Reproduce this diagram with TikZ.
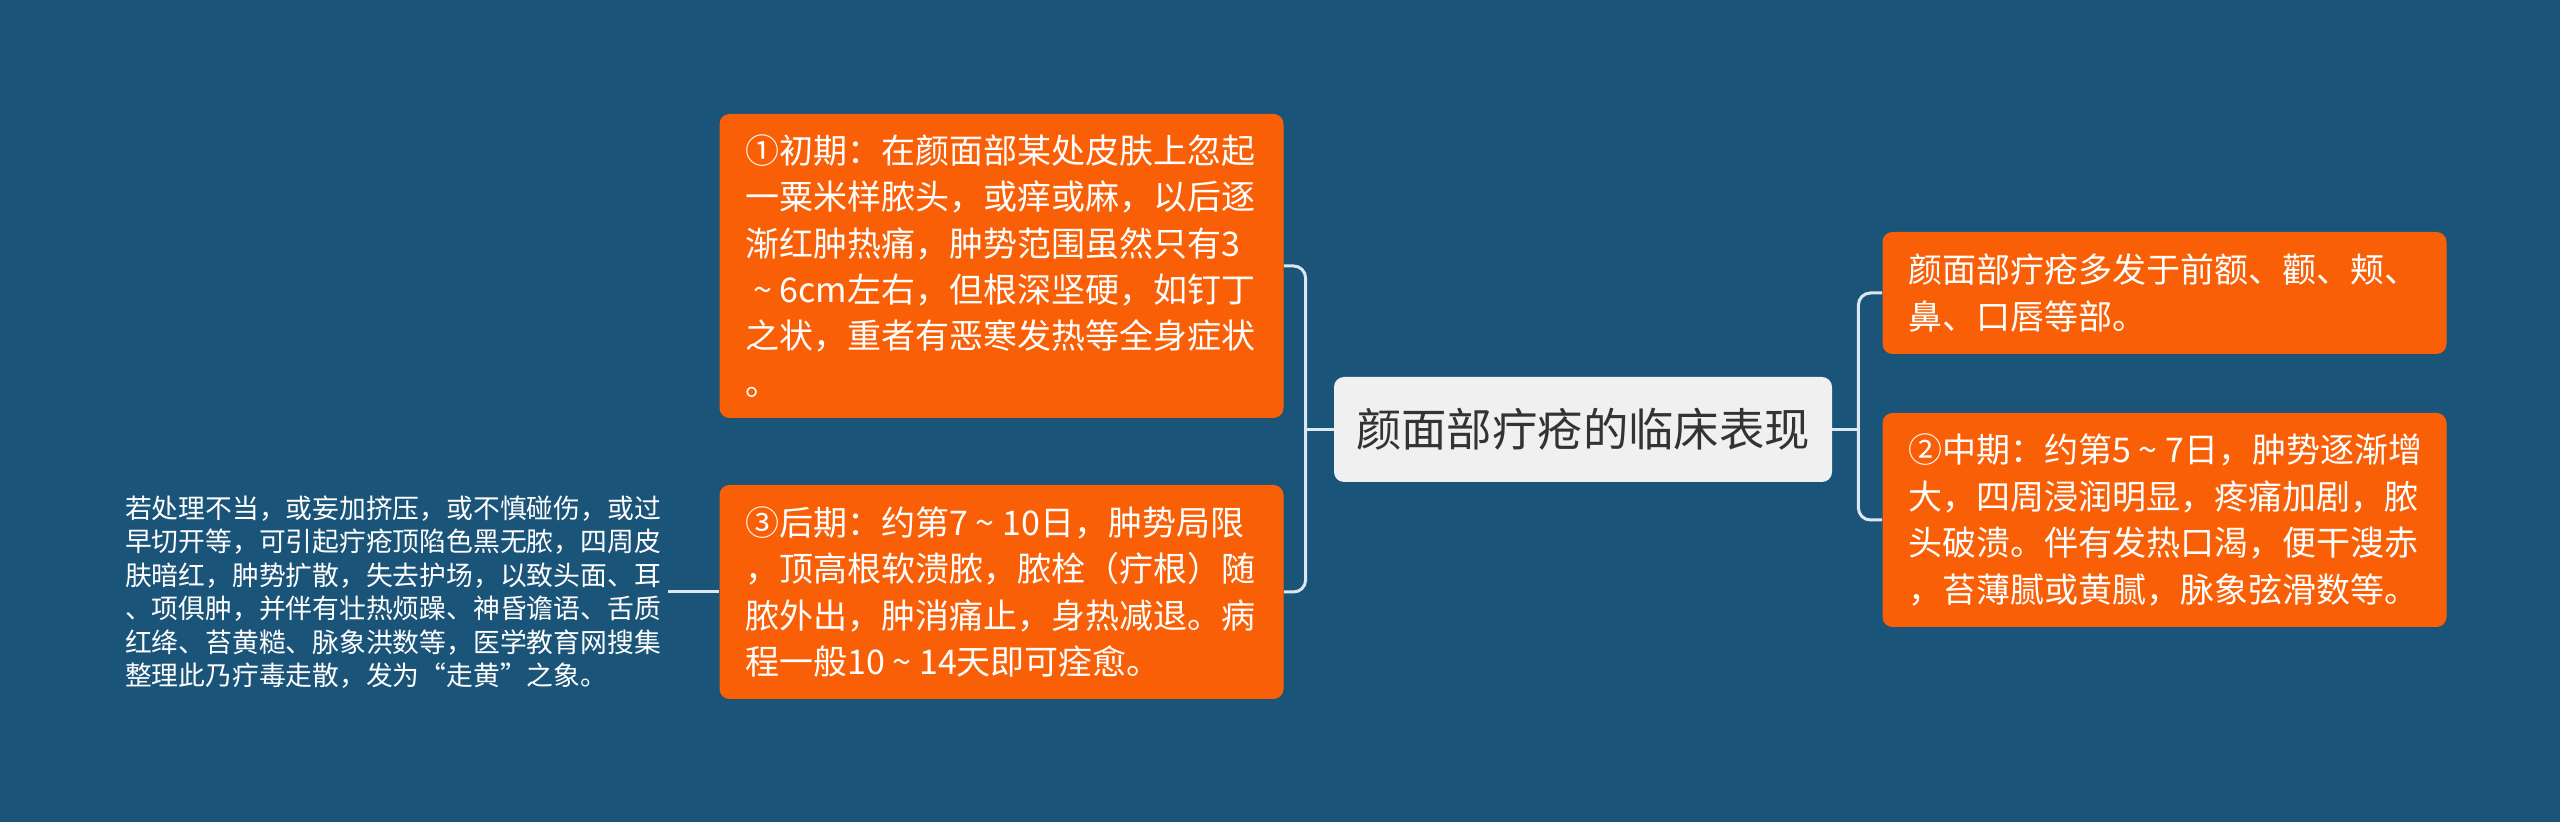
\documentclass[tikz,border=0pt]{standalone}
\usepackage{fontspec}
\setmainfont{Noto Sans CJK SC}
\usepackage{xcolor}
\usepackage{tikz}
\usetikzlibrary{calc}
\definecolor{bgblue}{HTML}{1B5479}
\definecolor{boxorange}{HTML}{F95F06}
\definecolor{rootgray}{HTML}{F0F0F0}
\definecolor{linkwhite}{HTML}{DDE7EF}
\newcommand{\wave}{\makebox[1em]{\char"007E}}
\tikzset{
    rootbox/.style={fill=rootgray, text=black!80, rounded corners=5pt, minimum width=249pt, minimum height=52.5pt, font=\fontsize{22.7pt}{27pt}\selectfont},
    leafbox/.style={fill=boxorange, text=white, rounded corners=5pt, align=left, text width=256pt, inner xsep=13pt, font=\fontsize{17pt}{23.2pt}\selectfont},
    notetext/.style={text=white, align=left, font=\fontsize{13.4pt}{16.7pt}\selectfont},
    link/.style={draw=linkwhite, line width=1.5pt, rounded corners=6pt}
}
\begin{document}
\begin{tikzpicture}[x=0.5pt,y=-0.5pt]
    \fill[bgblue] (0,0) rectangle (2560,822);
        \node[rootbox] (root) at (1583,429.5) {颜面部疔疮的临床表现};
        \node[leafbox, minimum height=152pt] (early) at (1001.5,266) {①初期：在颜面部某处皮肤上忽起\\一粟米样脓头，或痒或麻，以后逐\\渐红肿热痛，肿势范围虽然只有3\\\wave 6cm左右，但根深坚硬，如钉丁\\之状，重者有恶寒发热等全身症状\\。};
        \node[leafbox, minimum height=107pt] (late) at (1001.5,592) {③后期：约第7\wave 10日，肿势局限\\，顶高根软溃脓，脓栓（疔根）随\\脓外出，肿消痛止，身热减退。病\\程一般10\wave 14天即可痊愈。};
        \node[leafbox, minimum height=61pt] (site) at (2164.5,293) {颜面部疔疮多发于前额、颧、颊、\\鼻、口唇等部。};
        \node[leafbox, minimum height=107pt] (middle) at (2164.5,520) {②中期：约第5\wave 7日，肿势逐渐增\\大，四周浸润明显，疼痛加剧，脓\\头破溃。伴有发热口渴，便干溲赤\\，苔薄腻或黄腻，脉象弦滑数等。};
        \node[notetext] (note) at (393,592) {若处理不当，或妄加挤压，或不慎碰伤，或过\\早切开等，可引起疔疮顶陷色黑无脓，四周皮\\肤暗红，肿势扩散，失去护场，以致头面、耳\\、项俱肿，并伴有壮热烦躁、神昏谵语、舌质\\红绛、苔黄糙、脉象洪数等，医学教育网搜集\\整理此乃疔毒走散，发为“走黄”之象。};
        % brackets
        \coordinate (lj) at ($(root.west)+(-14pt,0)$);
        \coordinate (rj) at ($(root.east)+(13pt,0)$);
        \draw[link] (root.west) -- (lj);
        \draw[link] (early.east) -| (lj) |- (late.east);
        \draw[link] (root.east) -- (rj);
        \draw[link] (site.west) -| (rj) |- (middle.west);
        \draw[link] (late.west) -- (note.east);
\end{tikzpicture}
\end{document}
